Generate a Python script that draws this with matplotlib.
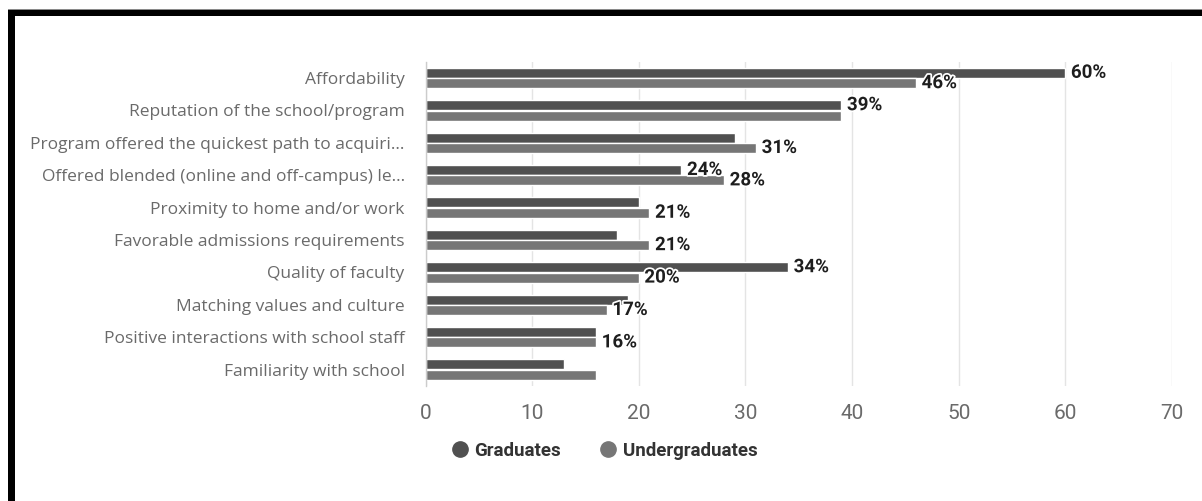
import numpy as np
import matplotlib
matplotlib.use("Agg")
import matplotlib.pyplot as plt
from matplotlib import font_manager
from matplotlib.lines import Line2D
from matplotlib.patches import Rectangle
import matplotlib.patheffects as pe

# ---- data -------------------------------------------------------------
categories = [
    "Affordability",
    "Reputation of the school/program",
    "Program offered the quickest path to acquiri...",
    "Offered blended (online and off-campus) le...",
    "Proximity to home and/or work",
    "Favorable admissions requirements",
    "Quality of faculty",
    "Matching values and culture",
    "Positive interactions with school staff",
    "Familiarity with school",
]
graduates = [60, 39, 29, 24, 20, 18, 34, 19, 16, 13]
undergraduates = [46, 39, 31, 28, 21, 21, 20, 17, 16, 16]

# which value labels are drawn (overlapping ones are suppressed)
show_grad = [True, True, False, True, False, False, True, False, False, False]
show_under = [True, False, True, True, True, True, True, True, True, False]

x_ticks = [0, 10, 20, 30, 40, 50, 60, 70]
series_names = ["Graduates", "Undergraduates"]

# ---- styling ----------------------------------------------------------
available = {f.name for f in font_manager.fontManager.ttflist}


def pick(*names):
    for n in names:
        if n in available:
            return n
    return "DejaVu Sans"


NARROW = pick("Roboto", "Lato")
BODY = pick("Open Sans", "Lato")

GRAD_COLOR = "#505050"
UNDER_COLOR = "#767676"
AXIS_TEXT = "#6a6a6a"
GRID = "#e4e4e4"

W, H = 1202, 501
fig = plt.figure(figsize=(W / 100, H / 100), dpi=100)
fig.patch.set_facecolor("white")

left, right, top, bottom = 425.5, 1172, 61.8, 385.8
ax = fig.add_axes([left / W, 1 - bottom / H, (right - left) / W, (bottom - top) / H])

y = np.arange(len(categories))
off = 0.16
bar_h = 0.31
ax.barh(y - off, graduates, height=bar_h, color=GRAD_COLOR,
        edgecolor="white", linewidth=1, zorder=3)
ax.barh(y + off, undergraduates, height=bar_h, color=UNDER_COLOR,
        edgecolor="white", linewidth=1, zorder=3)

ax.set_xlim(0, 70)
ax.set_ylim(len(categories) - 0.5, -0.5)
ax.set_xticks(x_ticks)
ax.set_xticklabels([str(t) for t in x_ticks], family=NARROW, fontsize=15,
                   color=AXIS_TEXT)
ax.set_yticks(y)
ax.set_yticklabels(categories, family=BODY, fontsize=12.5, color=AXIS_TEXT)
ax.tick_params(axis="x", length=0, pad=13)
ax.tick_params(axis="y", length=0, pad=15)

ax.grid(axis="x", color=GRID, linewidth=1, zorder=0)
ax.set_axisbelow(True)
for side in ("top", "right", "bottom"):
    ax.spines[side].set_visible(False)
ax.spines["left"].set_color("#cccccc")
ax.spines["left"].set_linewidth(1)
ax.spines["left"].set_zorder(4)

halo = [pe.withStroke(linewidth=2.5, foreground="white")]


def add_labels(values, flags, dy):
    for i, (v, s) in enumerate(zip(values, flags)):
        if not s:
            continue
        ax.annotate(f"{v}%", xy=(v, i + dy), xytext=(4, 0),
                    textcoords="offset points", ha="left", va="center",
                    family=NARROW, fontweight="bold", fontsize=13.5,
                    color="#1e1e1e", path_effects=halo, zorder=6)


add_labels(graduates, show_grad, -off)
add_labels(undergraduates, show_under, off)

# ---- legend -----------------------------------------------------------
handles = [
    Line2D([], [], marker="o", linestyle="none", markersize=11,
           markerfacecolor=GRAD_COLOR, markeredgecolor=GRAD_COLOR),
    Line2D([], [], marker="o", linestyle="none", markersize=11,
           markerfacecolor=UNDER_COLOR, markeredgecolor=UNDER_COLOR),
]
leg = fig.legend(handles, series_names, loc="center",
                 bbox_to_anchor=(604 / W, 1 - 451 / H), ncol=2, frameon=False,
                 handletextpad=0.3, columnspacing=2.0, handlelength=1.0,
                 prop={"family": NARROW, "weight": "bold", "size": 13.5})
for t in leg.get_texts():
    t.set_color("#333333")

# ---- frame around the chart ------------------------------------------
fig.add_artist(Rectangle((8 / W, 1 - 16 / H), 1 - 8 / W, 6 / H,
                         transform=fig.transFigure, facecolor="black",
                         edgecolor="none", zorder=10))
fig.add_artist(Rectangle((8 / W, 1 - 10 / H), 1 - 8 / W, 1 / H,
                         transform=fig.transFigure, facecolor="#8a8a8a",
                         edgecolor="none", zorder=10))
fig.add_artist(Rectangle((8 / W, 0), 7 / W, 1 - 10 / H,
                         transform=fig.transFigure, facecolor="black",
                         edgecolor="none", zorder=10))

fig.savefig("out.png", dpi=100, facecolor="white")
